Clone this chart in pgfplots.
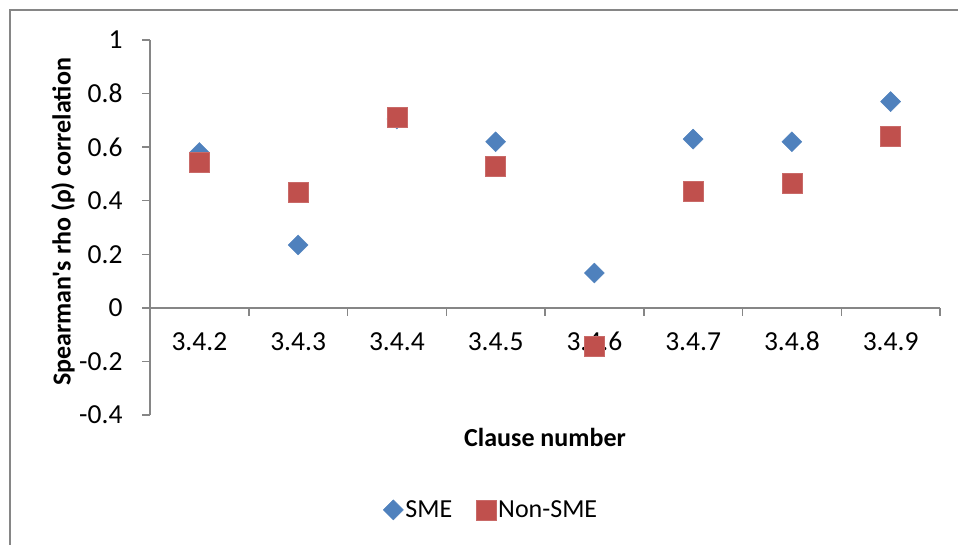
\documentclass[border=0pt]{standalone}
\usepackage{pgfplots}
\pgfplotsset{compat=1.18}
\usepackage{fontspec}
\setmainfont{Carlito}[Ligatures=TeXOff]
\definecolor{smeblue}{HTML}{4F81BD}
\definecolor{nonred}{HTML}{C0504D}
\definecolor{axgray}{HTML}{868686}

\begin{document}
\begin{tikzpicture}[x=1pt,y=1pt,font=\fontsize{26}{31}\selectfont]
\useasboundingbox (0,0) rectangle (958,544);
% chart frame
\begin{scope}
\clip (0,0) rectangle (958,544);
\draw[axgray, line width=1.5pt] (10,-20) rectangle (990,534);
\end{scope}
\begin{axis}[
  at={(150pt,129pt)}, anchor=south west,
  scale only axis, width=790pt, height=375pt,
  xmin=0.5, xmax=8.5, ymin=-0.4, ymax=1,
  axis x line=middle, axis y line=left,
  axis line style={-, axgray, line width=1.5pt},
  every tick/.style={axgray, line width=1.5pt},
  tick align=outside, major tick length=8pt,
  tick label style={font=\fontsize{27.5}{33}\selectfont},
  xtick={0.5,1.5,...,8.5}, xticklabels={},
  extra x ticks={1,2,3,4,5,6,7,8},
  extra x tick labels={3.4.2,3.4.3,3.4.4,3.4.5,3.4.6,3.4.7,3.4.8,3.4.9},
  extra x tick style={major tick length=0pt,
    xticklabel style={anchor=base, yshift=-43pt}},
  ytick={-0.4,-0.2,0,0.2,0.4,0.6,0.8,1},
  yticklabel style={xshift=-16pt},
  /pgf/number format/assume math mode=true,
  xlabel={\bfseries Clause number},
  xlabel style={at={(axis description cs:0.5,-0.061)}, anchor=center},
  ylabel={\bfseries Spearman's rho (ρ) correlation},
  ylabel style={at={(axis description cs:-0.110,0.515)}, anchor=center},
  legend style={at={(axis description cs:0.432,-0.253)}, anchor=center,
    draw=none, legend columns=2,
    /tikz/every even column/.append style={column sep=22pt}},
  legend cell align=left,
  clip=false,
]
\addplot[only marks, mark=square*, mark size=7.07pt,
  mark options={rotate=45, fill=smeblue, draw=smeblue}]
  coordinates {(1,0.58) (2,0.235) (3,0.705) (4,0.62) (5,0.13) (6,0.63) (7,0.62) (8,0.77)};
\addlegendentry{SME}
\addplot[only marks, mark=square*, mark size=10pt,
  mark options={fill=nonred, draw=nonred!85!white}]
  coordinates {(1,0.545) (2,0.433) (3,0.713) (4,0.527) (5,-0.144) (6,0.437) (7,0.465) (8,0.642)};
\addlegendentry{Non-SME}
\end{axis}
\end{tikzpicture}
\end{document}
